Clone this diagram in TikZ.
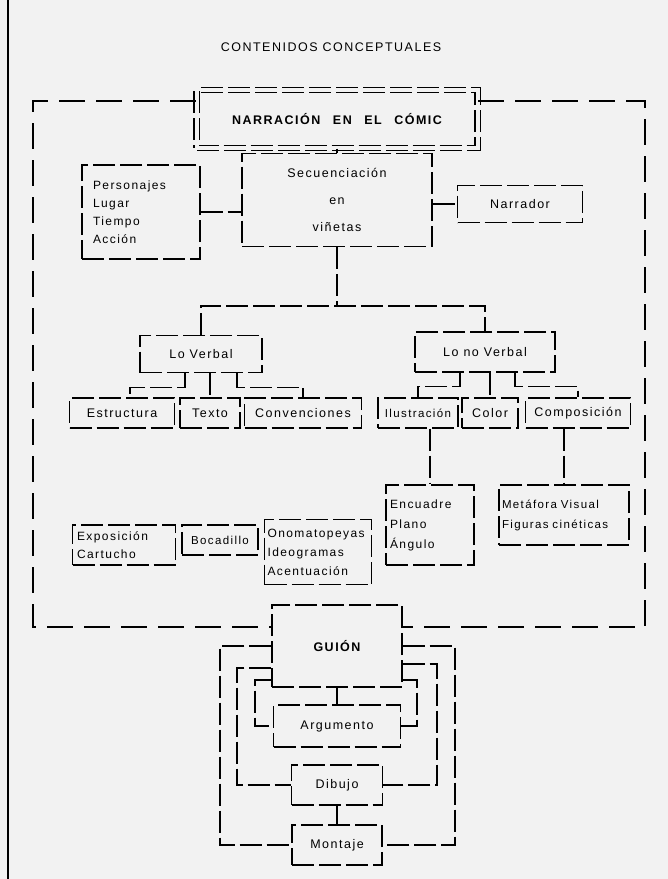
\documentclass[tikz,border=0pt]{standalone}
\usepackage{fontspec}
\setmainfont[LetterSpace=12]{Liberation Sans}
\definecolor{bg}{RGB}{242,242,242}
\begin{document}
\begin{tikzpicture}[x=1pt,y=-1pt,
  ln/.style={line width=1.2pt, dash pattern=on 22pt off 5pt},
  box/.style={draw, ln, inner sep=3pt, font=\fontsize{12.5}{15}\selectfont},
  cont/.style={line width=1.2pt, dash pattern=on 26pt off 11pt}]
\fill[bg] (0,0) rectangle (668,879);
\useasboundingbox (0,0) rectangle (668,879);
\draw[line width=2pt] (8,0) -- (8,879);

\node (title) at (331,47) {\fontsize{12.5}{14}\selectfont CONTENIDOS CONCEPTUALES};
\node[box, minimum width=281pt, minimum height=58pt, double=bg, double distance=4pt,
      font=\bfseries\fontsize{12.5}{14}\selectfont] (narr) at (337,119) {NARRACIÓN\quad EN\quad EL\quad CÓMIC};

\node[box, minimum width=118pt, minimum height=94pt, text width=96pt, align=left,
      font=\fontsize{12}{18}\selectfont] (pers) at (141,212) {Personajes\\Lugar\\Tiempo\\Acción};
\node[box, minimum width=190pt, minimum height=93pt, align=center,
      font=\fontsize{12.5}{27}\selectfont] (sec) at (337,200) {Secuenciación\\en\\viñetas};
\node[box, minimum width=125pt, minimum height=37pt] (nar) at (520,204) {Narrador};

\node[box, minimum width=122pt, minimum height=37pt] (verb) at (201,354) {Lo Verbal};
\node[box, minimum width=140pt, minimum height=40pt] (nverb) at (485,352) {Lo no Verbal};

\node[box, minimum width=105pt, minimum height=30pt] (estr) at (122,413) {Estructura};
\node[box, minimum width=60pt, minimum height=30pt] (texto) at (210,413) {Texto};
\node[box, minimum width=117pt, minimum height=30pt] (conv) at (303,413) {Convenciones};
\node[box, minimum width=80pt, minimum height=30pt, inner sep=1pt, font=\fontsize{11.5}{14}\selectfont] (ilus) at (418,413) {Ilustración};
\node[box, minimum width=56pt, minimum height=30pt] (color) at (490,413) {Color};
\node[box, minimum width=105pt, minimum height=30pt] (comp) at (578,413) {Composición};

\node[box, minimum width=103pt, minimum height=40pt, text width=94pt, align=left,
      font=\fontsize{12}{18}\selectfont] (expo) at (124,545) {Exposición\\Cartucho};
\node[box, minimum width=76pt, minimum height=30pt, inner sep=1pt, font=\fontsize{11.5}{14}\selectfont] (boca) at (220,540) {Bocadillo};
\node[box, minimum width=107pt, minimum height=65pt, text width=101pt, align=left,
      font=\fontsize{12}{19}\selectfont] (onom) at (318,552) {Onomatopeyas\\Ideogramas\\Acentuación};
\node[box, minimum width=88pt, minimum height=80pt, text width=80pt, align=left,
      font=\fontsize{12}{20}\selectfont] (encu) at (430,525) {Encuadre\\Plano\\Ángulo};
\node[box, minimum width=130pt, minimum height=60pt, text width=124pt, align=left,
      font=\fontsize{11.5}{20}\selectfont] (meta) at (564,515) {Metáfora Visual\\Figuras cinéticas};

\node[box, minimum width=130pt, minimum height=82pt, font=\bfseries\fontsize{12.5}{14}\selectfont] (guion) at (337,646) {GUIÓN};
\node[box, minimum width=127pt, minimum height=42pt] (arg) at (337,726) {Argumento};
\node[box, minimum width=91pt, minimum height=40pt] (dib) at (337,785) {Dibujo};
\node[box, minimum width=90pt, minimum height=40pt] (mont) at (337,845) {Montaje};

% top connectors
\draw[ln] (narr.south) -- (sec.north);
\draw[ln] (pers.east) -- (pers.east -| sec.west);
\draw[ln] (sec.east |- nar.west) -- (nar.west);
\coordinate (hub) at (337,306);
\draw[ln] (sec.south) -- (hub);
\draw[ln] (verb.north) |- (hub) -| (nverb.north);

\draw[ln] ([xshift=-16pt]verb.south) -- ++(0,14) -| ([xshift=8pt]estr.north);
\draw[ln] (verb.south -| texto.north) -- (texto.north);
\draw[ln] ([xshift=36pt]verb.south) -- ++(0,14) -| (conv.north);

\draw[ln] ([xshift=-25pt]nverb.south) -- ++(0,14) -| (ilus.north);
\draw[ln] (nverb.south -| color.north) -- (color.north);
\draw[ln] ([xshift=30pt]nverb.south) -- ++(0,14) -| (comp.north);
\draw[ln] (ilus.south -| encu.north) -- (encu.north);
\draw[ln] (comp.south -| meta.north) -- (meta.north);

% container
\coordinate (c1) at (33,101);
\coordinate (c2) at (645,101);
\coordinate (c3) at (645,627);
\coordinate (c4) at (33,627);
\draw[cont] (narr.west |- c1) -- (c1) -- (c4) -- (guion.west |- c4);
\draw[cont] (narr.east |- c2) -- (c2) -- (c3) -- (guion.east |- c3);

% bottom
\draw[ln] (guion.south) -- (arg.north);
\draw[ln] (dib.south) -- (mont.north);
\coordinate (lo) at (220,0);
\coordinate (lm) at (237,0);
\coordinate (li) at (255,0);
\coordinate (ro) at (455,0);
\coordinate (rm) at (437,0);
\coordinate (ri) at (417,0);
\draw[ln] (guion.west) -- (guion.west -| lo) -- (mont.west -| lo) -- (mont.west);
\draw[ln] ([yshift=-22pt]guion.west) -- ([yshift=-22pt]guion.west -| lm) -- (dib.west -| lm) -- (dib.west);
\draw[ln] ([yshift=-34pt]guion.west) -- ([yshift=-34pt]guion.west -| li) -- (arg.west -| li) -- (arg.west);
\draw[ln] (guion.east) -- (guion.east -| ro) -- (mont.east -| ro) -- (mont.east);
\draw[ln] ([yshift=-18pt]guion.east) -- ([yshift=-18pt]guion.east -| rm) -- (dib.east -| rm) -- (dib.east);
\draw[ln] ([yshift=-34pt]guion.east) -- ([yshift=-34pt]guion.east -| ri) -- (arg.east -| ri) -- (arg.east);
\end{tikzpicture}
\end{document}
